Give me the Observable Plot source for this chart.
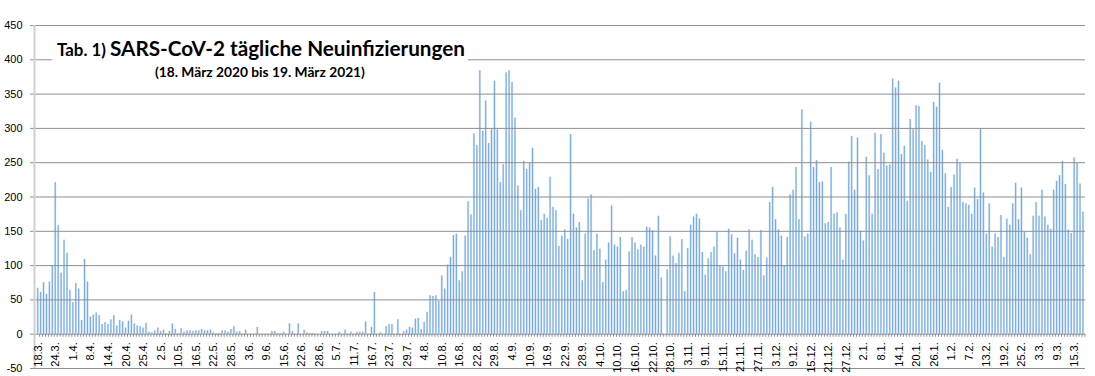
<!DOCTYPE html>
<html><head><meta charset="utf-8">
<script src="https://cdn.jsdelivr.net/npm/d3@7"></script>
<script src="https://cdn.jsdelivr.net/npm/@observablehq/plot@0.6"></script>
<style>
html,body{margin:0;padding:0;background:#fff;}
#chart{position:relative;width:1095px;height:376px;overflow:hidden;}
</style></head><body><div id="chart"></div>
<script>
// Daily new infections, one value per category (18.3.2020 – 19.3.2021)
const values = [
  67,61,75,58,76,99,221,158,89,137,
  118,64,46,74,66,20,109,76,25,28,
  31,27,14,17,14,21,27,12,20,18,
  9,19,28,15,12,11,9,16,3,2,
  5,9,4,6,1,4,15,7,1,8,
  3,5,5,4,5,5,7,5,5,6,
  2,1,1,5,5,3,7,11,3,4,
  0,6,0,0,0,10,0,0,0,0,
  4,4,1,1,3,0,15,4,0,15,
  0,6,2,1,1,0,0,4,4,4,
  0,0,0,3,0,6,0,3,0,3,
  3,3,18,0,10,61,0,2,0,11,
  14,14,0,21,0,4,6,10,9,22,
  23,7,17,32,56,55,56,48,85,66,
  101,112,144,146,78,91,143,193,174,292,
  275,384,296,340,278,298,369,298,221,247,
  381,384,367,315,216,180,252,240,249,271,
  211,214,166,175,169,229,185,180,128,143,
  152,138,291,175,155,163,78,146,197,203,
  122,146,124,75,108,133,187,130,127,141,
  62,64,120,141,133,123,130,127,156,155,
  151,114,172,82,0,94,142,114,103,118,
  138,62,125,159,171,175,168,119,86,110,
  119,127,149,100,98,91,153,145,117,140,
  108,93,121,152,137,116,112,151,85,111,
  192,214,167,152,143,100,141,203,210,243,
  167,327,142,146,309,243,253,221,222,161,
  163,243,175,177,155,108,175,251,288,210,
  286,150,136,258,231,175,293,240,291,264,
  245,247,372,359,369,262,274,194,313,298,
  333,332,281,275,254,236,338,331,366,268,
  234,185,214,232,255,249,192,190,188,175,
  213,196,299,206,146,190,127,146,141,173,
  112,168,159,190,220,167,213,149,140,116,
  172,192,172,210,171,159,153,210,223,231,
  252,218,152,147,257,249,219,178
];
// One tick label every 6 categories
const tickLabels = [
  "18.3.","24.3.","1.4.","8.4.","14.4.","20.4.","25.4.","2.5.","10.5.","16.5.",
  "22.5.","28.5.","3.6.","9.6.","15.6.","22.6.","28.6.","5.7.","11.7.","16.7.",
  "23.7.","29.7.","4.8.","10.8.","16.8.","22.8.","29.8.","4.9.","10.9.","16.9.",
  "22.9.","28.9.","4.10.","10.10.","16.10.","22.10.","28.10.","3.11.","9.11.","15.11.",
  "21.11.","27.11.","3.12.","9.12.","15.12.","21.12.","27.12.","2.1.","8.1.","14.1.",
  "20.1.","26.1.","1.2.","7.2.","13.2.","19.2.","25.2.","3.3.","9.3.","15.3."
];
const labelStep = 6;
const yTicks = [-50,0,50,100,150,200,250,300,350,400,450];
const titlePrefix = "Tab. 1)";
const titleMain = "SARS-CoV-2 tägliche Neuinfizierungen";
const subtitle = "(18. März 2020 bis 19. März 2021)";

const data = values.map((v, i) => ({i, v}));
const labelData = tickLabels.map((t, k) => ({i: k * labelStep, t}));
const cats = d3.range(values.length);
const xMin = -1.26, xMax = values.length - 0.3;

const plot = Plot.plot({
  width: 1095, height: 376,
  marginLeft: 34, marginRight: 10, marginTop: 25, marginBottom: 8,
  x: {domain: [xMin, xMax], axis: null},
  y: {domain: [-50, 450], axis: null, label: null},
  style: {fontFamily: "'Liberation Sans', Arial, sans-serif", fontSize: "11px", color: "#000", background: "#fff"},
  marks: [
    Plot.rectY(data, {x1: d => d.i - 0.43, x2: d => d.i + 0.43, y1: 0, y2: "v", fill: "url(#barGrad)"}),
    Plot.ruleY(yTicks, {stroke: "#8f8f8f", strokeWidth: 1}),
    Plot.axisY({ticks: yTicks, tickSize: 4, tickPadding: 8, stroke: "#8f8f8f", fill: "#000", fontSize: 11, label: null, tickFormat: d => String(d)}),
    Plot.ruleX(cats, {x: d => d + 0.5, y1: 0, y2: -4.5, stroke: "#8f8f8f", strokeWidth: 1}),
    Plot.ruleX([xMin], {y1: -50, y2: 450, stroke: "#d0d0d0", strokeWidth: 2}),
    Plot.text(labelData, {x: "i", y: 0, text: "t", rotate: -90, textAnchor: "end", dy: 8, fontSize: 11, fill: "#000"})
  ]
});
document.getElementById("chart").appendChild(plot);

const svg = d3.select(plot);
const defs = svg.insert("defs", ":first-child");
const grad = defs.append("linearGradient").attr("id", "barGrad")
  .attr("x1", "0").attr("x2", "1").attr("y1", "0").attr("y2", "0");
grad.append("stop").attr("offset", "0%").attr("stop-color", "#eaf2fb");
grad.append("stop").attr("offset", "50%").attr("stop-color", "#74a9e0");
grad.append("stop").attr("offset", "100%").attr("stop-color", "#eaf2fb");

// Title block overlaid on the chart
const tg = svg.append("g").attr("text-anchor", "start");
tg.append("rect").attr("x", 52).attr("y", 36).attr("width", 416).attr("height", 28).attr("fill", "#fff");
function fitText(sel, target) {
  const w = sel.node().getComputedTextLength();
  const fs = parseFloat(sel.attr("font-size"));
  sel.attr("font-size", (fs * target / w).toFixed(2));
}
const fontT = "Lato, 'Open Sans', sans-serif";
const t1 = tg.append("text").attr("x", 57).attr("y", 56).attr("text-anchor", "start").attr("font-family", fontT).attr("font-weight", 700)
  .attr("font-size", 15).attr("fill", "#000").text(titlePrefix);
fitText(t1, 49);
const t2 = tg.append("text").attr("x", 110).attr("y", 56).attr("text-anchor", "start").attr("font-family", fontT).attr("font-weight", 700)
  .attr("font-size", 20).attr("fill", "#000").text(titleMain);
fitText(t2, 355);
const t3 = tg.append("text").attr("x", 155).attr("y", 77).attr("text-anchor", "start").attr("font-family", fontT).attr("font-weight", 700)
  .attr("font-size", 13).attr("fill", "#000").text(subtitle);
fitText(t3, 210);
</script></body></html>
